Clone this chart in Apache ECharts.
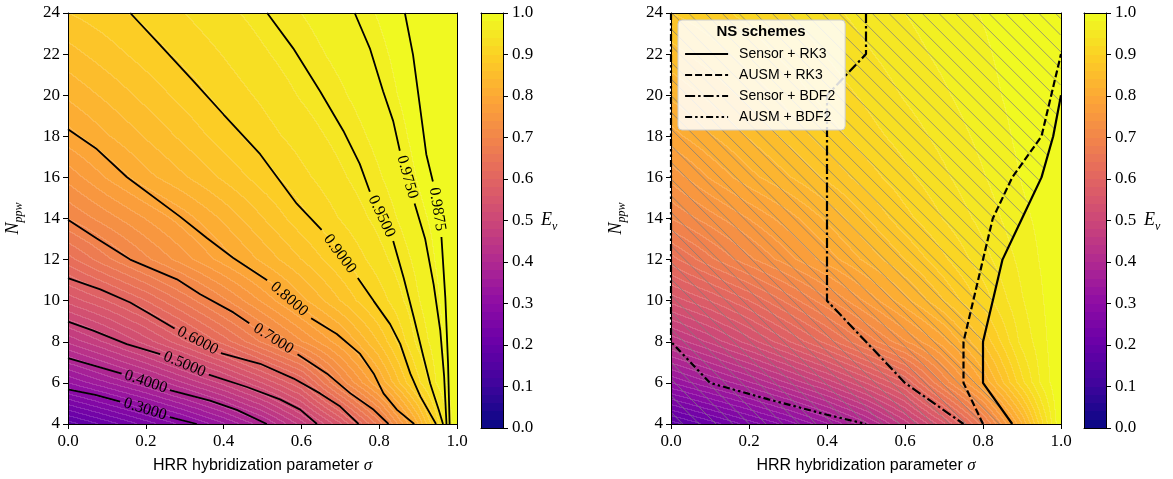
<!DOCTYPE html>
<html><head><meta charset="utf-8">
<script src="https://cdn.jsdelivr.net/npm/echarts@6/dist/echarts.min.js"></script>
<style>html,body{margin:0;padding:0;background:#fff}#c{width:1173px;height:479px}</style>
</head><body><div id="c"></div>
<script>
// ---------------- data ----------------
const sigmaGrid = [0, 0.1, 0.2, 0.3, 0.4, 0.5, 0.6, 0.7, 0.8, 0.9, 0.95, 1.0];
const nppwGrid = [4, 6, 8, 10, 12, 14, 16, 18, 20, 22, 24];
const effN04 = [0.170,0.209,0.249,0.289,0.338,0.394,0.469,0.556,0.669,0.818,0.911,1.0];
const effN06 = [0.321,0.359,0.397,0.442,0.488,0.542,0.600,0.706,0.800,0.913,0.963,1.0];
const effN08 = [0.445,0.485,0.530,0.578,0.629,0.684,0.738,0.792,0.862,0.946,0.971,1.0];
const effN10 = [0.548,0.581,0.620,0.667,0.715,0.764,0.813,0.860,0.908,0.958,0.977,1.0];
const effN12 = [0.632,0.675,0.715,0.752,0.789,0.825,0.860,0.896,0.932,0.966,0.982,1.0];
const effN14 = [0.701,0.731,0.761,0.791,0.824,0.859,0.893,0.921,0.947,0.975,0.985,1.0];
const effN16 = [0.747,0.782,0.813,0.838,0.864,0.890,0.914,0.936,0.958,0.981,0.991,1.0];
const effN18 = [0.792,0.818,0.842,0.866,0.890,0.911,0.929,0.947,0.966,0.985,0.993,1.0];
const effN20 = [0.824,0.845,0.867,0.888,0.908,0.924,0.942,0.957,0.973,0.9875,0.994,1.0];
const effN22 = [0.852,0.871,0.889,0.906,0.921,0.937,0.952,0.965,0.977,0.989,0.995,1.0];
const effN24 = [0.880,0.8925,0.906,0.920,0.934,0.948,0.960,0.971,0.981,0.991,0.996,1.0];

// filled-contour levels (also the colour bar bands)
const fillLevels = [0,0.02,0.04,0.06,0.08,0.1,0.12,0.14,0.16,0.18,0.2,0.22,0.24,0.26,0.28,0.3,0.32,0.34,0.36,0.38,0.4,0.42,0.44,0.46,0.48,0.5,0.52,0.54,0.56,0.58,0.6,0.62,0.64,0.66,0.68,0.7,0.72,0.74,0.76,0.78,0.8,0.82,0.84,0.86,0.88,0.9,0.92,0.94,0.96,0.98,1.0];

// contour lines of the left panel ('-' = gap where the inline label sits)
const c0300 = [[0,5.68],[0.07,5.42],[0.134,5.09],'-',[0.262,4.34],[0.331,4.0]];
const c0400 = [[0,7.21],[0.065,6.85],[0.138,6.45],'-',[0.262,5.65],[0.365,5.14],[0.434,4.69],[0.511,4.0]];
const c0500 = [[0,8.98],[0.065,8.54],[0.151,7.89],[0.237,7.4],'-',[0.362,6.4],[0.46,5.8],[0.545,5.2],[0.597,4.7],[0.64,4.0]];
const c0600 = [[0,11.1],[0.083,10.55],[0.16,9.91],[0.211,9.35],[0.274,8.65],'-',[0.393,7.45],[0.494,6.93],[0.58,6.21],[0.648,5.49],[0.70,4.85],[0.747,4.0]];
const c0700 = [[0,13.94],[0.074,13.03],[0.16,12.0],[0.28,11.04],[0.34,10.31],[0.425,9.43],[0.466,8.9],'-',[0.59,7.4],[0.666,6.45],[0.726,5.49],[0.786,4.69],[0.824,4.0]];
const c0800 = [[0,18.34],[0.074,17.38],[0.151,16.02],[0.288,14.09],[0.357,13.05],[0.425,12.08],[0.512,11.0],'-',[0.625,9.15],[0.691,8.38],[0.751,7.41],[0.786,6.45],[0.811,5.49],[0.846,4.69],[0.89,4.0]];
const c0900 = [[0.16,24],[0.237,22.44],[0.323,20.67],[0.40,19.06],[0.494,17.13],[0.588,14.72],[0.652,13.45],'-',[0.745,11.1],[0.786,9.98],[0.828,8.86],[0.854,7.9],[0.88,6.45],[0.906,5.33],[0.946,4.0]];
const c0950 = [[0.512,24],[0.579,22.28],[0.648,20.19],[0.708,18.26],[0.75,16.66],[0.776,15.3],'-',[0.836,12.9],[0.863,11.1],[0.889,9.18],[0.914,7.25],[0.931,5.97],[0.953,4.69],[0.964,4.0]];
const c0975 = [[0.737,24],[0.776,22.28],[0.81,20.19],[0.836,18.74],[0.853,17.3],'-',[0.891,14.73],[0.918,13.02],[0.94,10.78],[0.957,8.54],[0.967,6.29],[0.973,4.0]];
const c09875 = [[0.866,24],[0.887,21.96],[0.904,19.55],[0.921,17.13],[0.938,15.8],'-',[0.96,13.1],[0.97,10.14],[0.977,6.93],[0.981,4.0]];
const contourLines = [c0300,c0400,c0500,c0600,c0700,c0800,c0900,c0950,c0975,c09875];
const contourTexts = ['0.3000','0.4000','0.5000','0.6000','0.7000','0.8000','0.9000','0.9500','0.9750','0.9875'];

// stability limits of the right panel
const sensorRK3 = [[0.875,4],[0.8,6],[0.8,8],[0.825,10],[0.85,12],[0.9,14],[0.95,16],[0.98,18],[1.0,20]];
const ausmRK3 = [[0.8,4],[0.75,6],[0.75,8],[0.775,10],[0.8,12],[0.825,14],[0.875,16],[0.95,18],[0.975,20],[1.0,22]];
const sensorBDF2 = [[0.5,24],[0.5,22],[0.4,20],[0.4,10],[0.5,8],[0.6,6],[0.75,4]];
const ausmBDF2 = [[0,24],[0,8],[0.1,6],[0.25,5.2],[0.4,4.45],[0.5,4]];
const schemeNames = ['Sensor + RK3','AUSM + RK3','Sensor + BDF2','AUSM + BDF2'];

const colorbarTicks = [0,0.1,0.2,0.3,0.4,0.5,0.6,0.7,0.8,0.9,1.0];

// ---------------- helpers ----------------
const effGrid = [effN04,effN06,effN08,effN10,effN12,effN14,effN16,effN18,effN20,effN22,effN24];
const plasmaStops = ['#0d0887','#41049d','#6a00a8','#8f0da4','#b12a90','#cc4778','#e16462','#f2844b','#fca636','#fcce25','#f0f921'];
const plasmaRGBStops = plasmaStops.map(h => [parseInt(h.substr(1,2),16),parseInt(h.substr(3,2),16),parseInt(h.substr(5,2),16)]);
function plasma(t){
  t = Math.max(0, Math.min(1, t));
  const f = t*(plasmaRGBStops.length-1); const i = Math.min(Math.floor(f), plasmaRGBStops.length-2); const u = f-i;
  const a = plasmaRGBStops[i], b = plasmaRGBStops[i+1];
  return [a[0]+(b[0]-a[0])*u, a[1]+(b[1]-a[1])*u, a[2]+(b[2]-a[2])*u];
}
const nBands = fillLevels.length-1;
const bandRGB = []; for (let k=0;k<nBands;k++) bandRGB.push(plasma(k/(nBands-1)));
function rgbStr(c){return 'rgb('+Math.round(c[0])+','+Math.round(c[1])+','+Math.round(c[2])+')';}
function findIdx(arr, v){ let k=0; while(k<arr.length-2 && v>arr[k+1]) k++; return k; }
function effAt(s, n){
  s = Math.max(0, Math.min(1, s)); n = Math.max(4, Math.min(24, n));
  const i = findIdx(sigmaGrid, s), j = findIdx(nppwGrid, n);
  const ts = (s-sigmaGrid[i])/(sigmaGrid[i+1]-sigmaGrid[i]);
  const tn = (n-nppwGrid[j])/(nppwGrid[j+1]-nppwGrid[j]);
  const a = effGrid[j][i], b = effGrid[j][i+1], c = effGrid[j+1][i], d = effGrid[j+1][i+1];
  return (a*(1-ts)+b*ts)*(1-tn)+(c*(1-ts)+d*ts)*tn;
}
function bandOf(e){ let k=0; while(k<nBands-1 && e>=fillLevels[k+1]) k++; return k; }
const SEAM = 0.14;

const fieldCells = [];
for (let j=0;j<nppwGrid.length-1;j++) for (let i=0;i<sigmaGrid.length-1;i++) fieldCells.push([sigmaGrid[i], nppwGrid[j]]);

function fieldRender(params, api){
  const s0 = api.value(0), n0 = api.value(1);
  const i = sigmaGrid.indexOf(s0), j = nppwGrid.indexOf(n0);
  const s1 = sigmaGrid[i+1], n1 = nppwGrid[j+1];
  const pTL = api.coord([s0, n1]), pBR = api.coord([s1, n0]);
  const x0 = Math.round(pTL[0]), y0 = Math.round(pTL[1]), x1 = Math.round(pBR[0]), y1 = Math.round(pBR[1]);
  const w = x1-x0, h = y1-y0;
  if (w<=0 || h<=0) return null;
  const kx = (s1-s0)/(pBR[0]-pTL[0]), ky = (n0-n1)/(pBR[1]-pTL[1]);
  const sAt = gx => s0+(gx-pTL[0])*kx, nAt = gy => n1+(gy-pTL[1])*ky;
  const cv = document.createElement('canvas'); cv.width = w; cv.height = h;
  const ctx = cv.getContext('2d'); const img = ctx.createImageData(w, h); const d = img.data;
  for (let py=0; py<h; py++){
    const gy = y0+py+0.5, n = nAt(gy), nd = nAt(gy+1);
    for (let px=0; px<w; px++){
      const gx = x0+px+0.5, s = sAt(gx);
      const b = bandOf(effAt(s, n));
      const br = bandOf(effAt(sAt(gx+1), n));
      const bd = bandOf(effAt(s, nd));
      let c = bandRGB[b]; let r=c[0], g=c[1], bl=c[2];
      if (br!==b || bd!==b){ r += (255-r)*SEAM; g += (255-g)*SEAM; bl += (255-bl)*SEAM; }
      const o = (py*w+px)*4; d[o]=r; d[o+1]=g; d[o+2]=bl; d[o+3]=255;
    }
  }
  ctx.putImageData(img, 0, 0);
  return {type:'image', silent:true, style:{image:cv, x:x0, y:y0, width:w, height:h}};
}

// colour bar bands
const cbBands = []; for (let k=0;k<nBands;k++) cbBands.push([0, fillLevels[k], fillLevels[k+1], k]);
function cbRender(params, api){
  const lo = api.value(1), hi = api.value(2), k = api.value(3);
  const pa = api.coord([0, hi]), pb = api.coord([1, lo]);
  const y0 = Math.round(pa[1]), y1 = Math.round(pb[1]);
  return {type:'rect', silent:true, shape:{x:pa[0], y:y0, width:pb[0]-pa[0], height:y1-y0}, style:{fill:rgbStr(bandRGB[k]), stroke:null}};
}

// contour labels from gap endpoints
const labelData = contourLines.map(arr => { const k = arr.indexOf('-'); return [arr[k-1][0],arr[k-1][1],arr[k+1][0],arr[k+1][1]]; });
function labelRender(params, api){
  const p1 = api.coord([api.value(0), api.value(1)]), p2 = api.coord([api.value(2), api.value(3)]);
  let ang = Math.atan2(p2[1]-p1[1], p2[0]-p1[0]);
  if (ang > Math.PI/2) ang -= Math.PI; if (ang < -Math.PI/2) ang += Math.PI;
  return {type:'text', silent:true, x:(p1[0]+p2[0])/2, y:(p1[1]+p2[1])/2, rotation:-ang,
    style:{text:contourTexts[params.dataIndex], x:0, y:0, fill:'#000', font:'16px Liberation Serif', align:'center', verticalAlign:'middle'}};
}

// hatching (region left of the Sensor + RK3 limit)
const HATCH_STEP = 16.67, HATCH_PHASE = 5;
function hatchRender(params, api){
  if (params.dataIndex !== 0) return null;
  const cs = params.coordSys; const L = cs.x, T = cs.y, R = cs.x+cs.width, B = cs.y+cs.height;
  const pts = sensorRK3.map(p => api.coord(p));
  function boundX(y){
    if (y >= pts[0][1]) return pts[0][0];
    if (y <= pts[pts.length-1][1]) return R;
    for (let k=0;k<pts.length-1;k++){
      const a = pts[k], b = pts[k+1];
      if (y <= a[1] && y >= b[1]) { const u = (a[1]-y)/(a[1]-b[1]); return a[0]+(b[0]-a[0])*u; }
    }
    return R;
  }
  const segs = [];
  let cStart = L-(B-T); cStart = cStart - (((cStart-HATCH_PHASE)%HATCH_STEP)+HATCH_STEP)%HATCH_STEP;
  for (let c=cStart; c<=R; c+=HATCH_STEP){
    let run = null, prev = null;
    for (let y=T; y<=B+0.01; y+=0.5){
      const x = c+(y-T);
      const inside = x>=L && x<=R && x<=boundX(y);
      if (inside && !run) run = [x,y];
      if (!inside && run){ segs.push([run, prev]); run = null; }
      prev = [x,y];
    }
    if (run) segs.push([run, prev]);
  }
  return {type:'group', silent:true, children: segs.map(s => ({type:'line', shape:{x1:s[0][0],y1:s[0][1],x2:s[1][0],y2:s[1][1]}, style:{stroke:'rgba(125,125,125,0.75)', lineWidth:1}}))};
}

// ---------------- option ----------------
const SERIF = 'Liberation Serif', SANS = 'Liberation Sans';
const axisLineStyle = {color:'#000', width:1};
const serifTick = {color:'#000', fontFamily:SERIF, fontSize:17, fontStyle:'normal', fontWeight:'normal'};
function mainX(gi){
  return {type:'value', gridIndex:gi, min:0, max:1, interval:0.2, position:'bottom', z:10,
    axisLine:{show:true, onZero:false, lineStyle:axisLineStyle}, axisTick:{show:true, length:5, lineStyle:axisLineStyle},
    axisLabel:Object.assign({margin:9, formatter:v=>v.toFixed(1)}, serifTick), splitLine:{show:false},
    name:'{a|HRR hybridization parameter }{b|σ}', nameLocation:'middle', nameGap:33,
    nameTextStyle:{rich:{a:{fontFamily:SANS, fontSize:16, color:'#000'}, b:{fontFamily:SERIF, fontStyle:'italic', fontSize:17, color:'#000'}}}};
}
function mainY(gi){
  return {type:'value', gridIndex:gi, min:4, max:24, interval:2, position:'left', z:10,
    axisLine:{show:true, onZero:false, lineStyle:axisLineStyle}, axisTick:{show:true, length:5, lineStyle:axisLineStyle},
    axisLabel:Object.assign({margin:8}, serifTick), splitLine:{show:false},
    name:'{n|N}{s|ppw}', nameLocation:'middle', nameGap:43, nameRotate:90,
    nameTextStyle:{rich:{n:{fontFamily:SERIF, fontStyle:'italic', fontSize:18, color:'#000', lineHeight:24, verticalAlign:'middle'},
      s:{fontFamily:SERIF, fontStyle:'italic', fontSize:12, color:'#000', lineHeight:24, verticalAlign:'bottom'}}}};
}
function frameX(gi, min, max){ return {type:'value', gridIndex:gi, min:min, max:max, position:'top', z:10, axisLine:{show:true, onZero:false, lineStyle:axisLineStyle}, axisTick:{show:false}, axisLabel:{show:false}, splitLine:{show:false}}; }
function frameXb(gi){ return {type:'value', gridIndex:gi, min:0, max:1, position:'bottom', z:10, axisLine:{show:true, onZero:false, lineStyle:axisLineStyle}, axisTick:{show:false}, axisLabel:{show:false}, splitLine:{show:false}}; }
function frameY(gi, min, max, pos){ return {type:'value', gridIndex:gi, min:min, max:max, position:pos, z:10, axisLine:{show:true, onZero:false, lineStyle:axisLineStyle}, axisTick:{show:false}, axisLabel:{show:false}, splitLine:{show:false}}; }
function cbY(gi){
  return {type:'value', gridIndex:gi, min:colorbarTicks[0], max:colorbarTicks[colorbarTicks.length-1], interval:0.1, position:'right', z:10,
    axisLine:{show:true, onZero:false, lineStyle:axisLineStyle}, axisTick:{show:true, length:5, lineStyle:axisLineStyle},
    axisLabel:Object.assign({margin:9, formatter:v=>v.toFixed(1)}, serifTick), splitLine:{show:false},
    name:'{e|E}{s|ν}', nameLocation:'middle', nameGap:38, nameRotate:0,
    nameTextStyle:{align:'left', rich:{e:{fontFamily:SERIF, fontStyle:'italic', fontSize:18, color:'#000', lineHeight:24, verticalAlign:'middle'},
      s:{fontFamily:SERIF, fontStyle:'italic', fontSize:12, color:'#000', lineHeight:24, verticalAlign:'bottom'}}}};
}

const xAxis = [mainX(0), frameX(0,0,1), frameXb(1), frameX(1,0,1), mainX(2), frameX(2,0,1), frameXb(3), frameX(3,0,1)];
const yAxis = [mainY(0), frameY(0,4,24,'right'), frameY(1,0,1,'left'), cbY(1), mainY(2), frameY(2,4,24,'right'), frameY(3,0,1,'left'), cbY(3)];

const series = [];
series.push({type:'custom', xAxisIndex:0, yAxisIndex:0, data:fieldCells, renderItem:fieldRender, z:1, silent:true, animation:false});
series.push({type:'custom', xAxisIndex:4, yAxisIndex:4, data:fieldCells, renderItem:fieldRender, z:1, silent:true, animation:false});
series.push({type:'custom', xAxisIndex:2, yAxisIndex:3, data:cbBands, renderItem:cbRender, z:1, silent:true, animation:false});
series.push({type:'custom', xAxisIndex:6, yAxisIndex:7, data:cbBands, renderItem:cbRender, z:1, silent:true, animation:false});
contourLines.forEach(arr => series.push({type:'line', xAxisIndex:0, yAxisIndex:0, data:arr, symbol:'none', showSymbol:false, connectNulls:false, silent:true, z:3, animation:false, lineStyle:{color:'#000', width:1.8}}));
series.push({type:'custom', xAxisIndex:0, yAxisIndex:0, data:labelData, renderItem:labelRender, z:4, silent:true, animation:false});
series.push({type:'custom', xAxisIndex:4, yAxisIndex:4, data:[sensorRK3[0]], renderItem:hatchRender, z:2, silent:true, animation:false, clip:true});
const schemeData = [sensorRK3, ausmRK3, sensorBDF2, ausmBDF2];
const schemeDash = ['solid', [7,3], [10,3,2.5,3], [7,3,2.5,3,2.5,3]];
schemeData.forEach((arr, k) => series.push({type:'line', name:schemeNames[k], xAxisIndex:4, yAxisIndex:4, data:arr, symbol:'none', showSymbol:false, silent:true, z:3, animation:false, clip:false,
  itemStyle:{color:'#000'}, lineStyle:{color:'#000', width:2.2, type:schemeDash[k], cap:'butt'}}));

const option = {
  animation:false, backgroundColor:'#fff',
  textStyle:{fontFamily:SERIF},
  grid:[{left:68, top:13, width:389, height:415}, {left:481, top:13, width:22, height:415}, {left:671, top:13, width:390, height:415}, {left:1084, top:13, width:22, height:415}],
  xAxis, yAxis, series,
  legend:{data:schemeNames, orient:'vertical', left:678, top:20, padding:[27,10,6,6], itemWidth:43, itemHeight:14, itemGap:7,
    backgroundColor:'rgba(255,255,255,0.85)', borderColor:'#cccccc', borderWidth:1, borderRadius:4, selectedMode:false, z:20,
    itemStyle:{opacity:0}, lineStyle:{width:2.2},
    textStyle:{fontFamily:SANS, fontSize:14, color:'#000', padding:[0,0,0,6]}},
  graphic:[{type:'text', x:761, y:32, z:30, silent:true, style:{text:'NS schemes', fill:'#000', font:'bold 15px Liberation Sans', align:'center', verticalAlign:'middle'}}]
};
const chart = echarts.init(document.getElementById('c'), null, {renderer:'canvas'});
chart.setOption(option);
</script></body></html>
